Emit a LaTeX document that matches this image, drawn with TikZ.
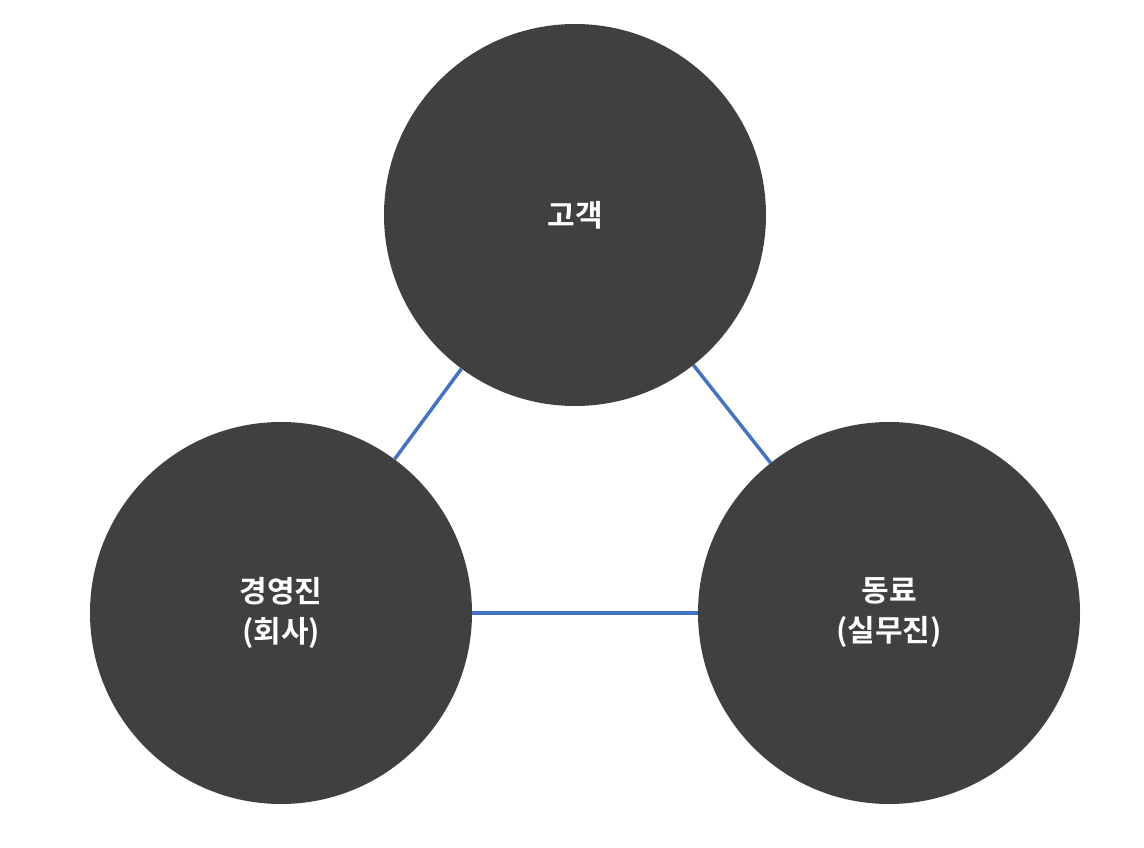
\documentclass[tikz,border=0pt]{standalone}
\usepackage{fontspec}
\newfontfamily\kr{Noto Sans CJK KR}[BoldFont={Noto Sans CJK KR Bold}]
\definecolor{circ}{HTML}{404040}
\definecolor{lnk}{HTML}{4472C4}
\begin{document}
\begin{tikzpicture}[x=1pt,y=-1pt,
  ball/.style={circle,fill=circ,minimum size=382pt,inner sep=0pt,text=white,font=\kr\bfseries\fontsize{30}{40}\selectfont,align=center},
  link/.style={draw=lnk,line width=3.5pt}]
\useasboundingbox (0,0) rectangle (1144,848);
\node[ball] (c) at (575,215) {고객};
\node[ball] (m) at (281,613) {경영진\\(회사)};
\node[ball] (p) at (889,613) {동료\\(실무진)};
\draw[link] (c) -- (m);
\draw[link] (c) -- (p);
\draw[link] (m) -- (p);
\end{tikzpicture}
\end{document}
